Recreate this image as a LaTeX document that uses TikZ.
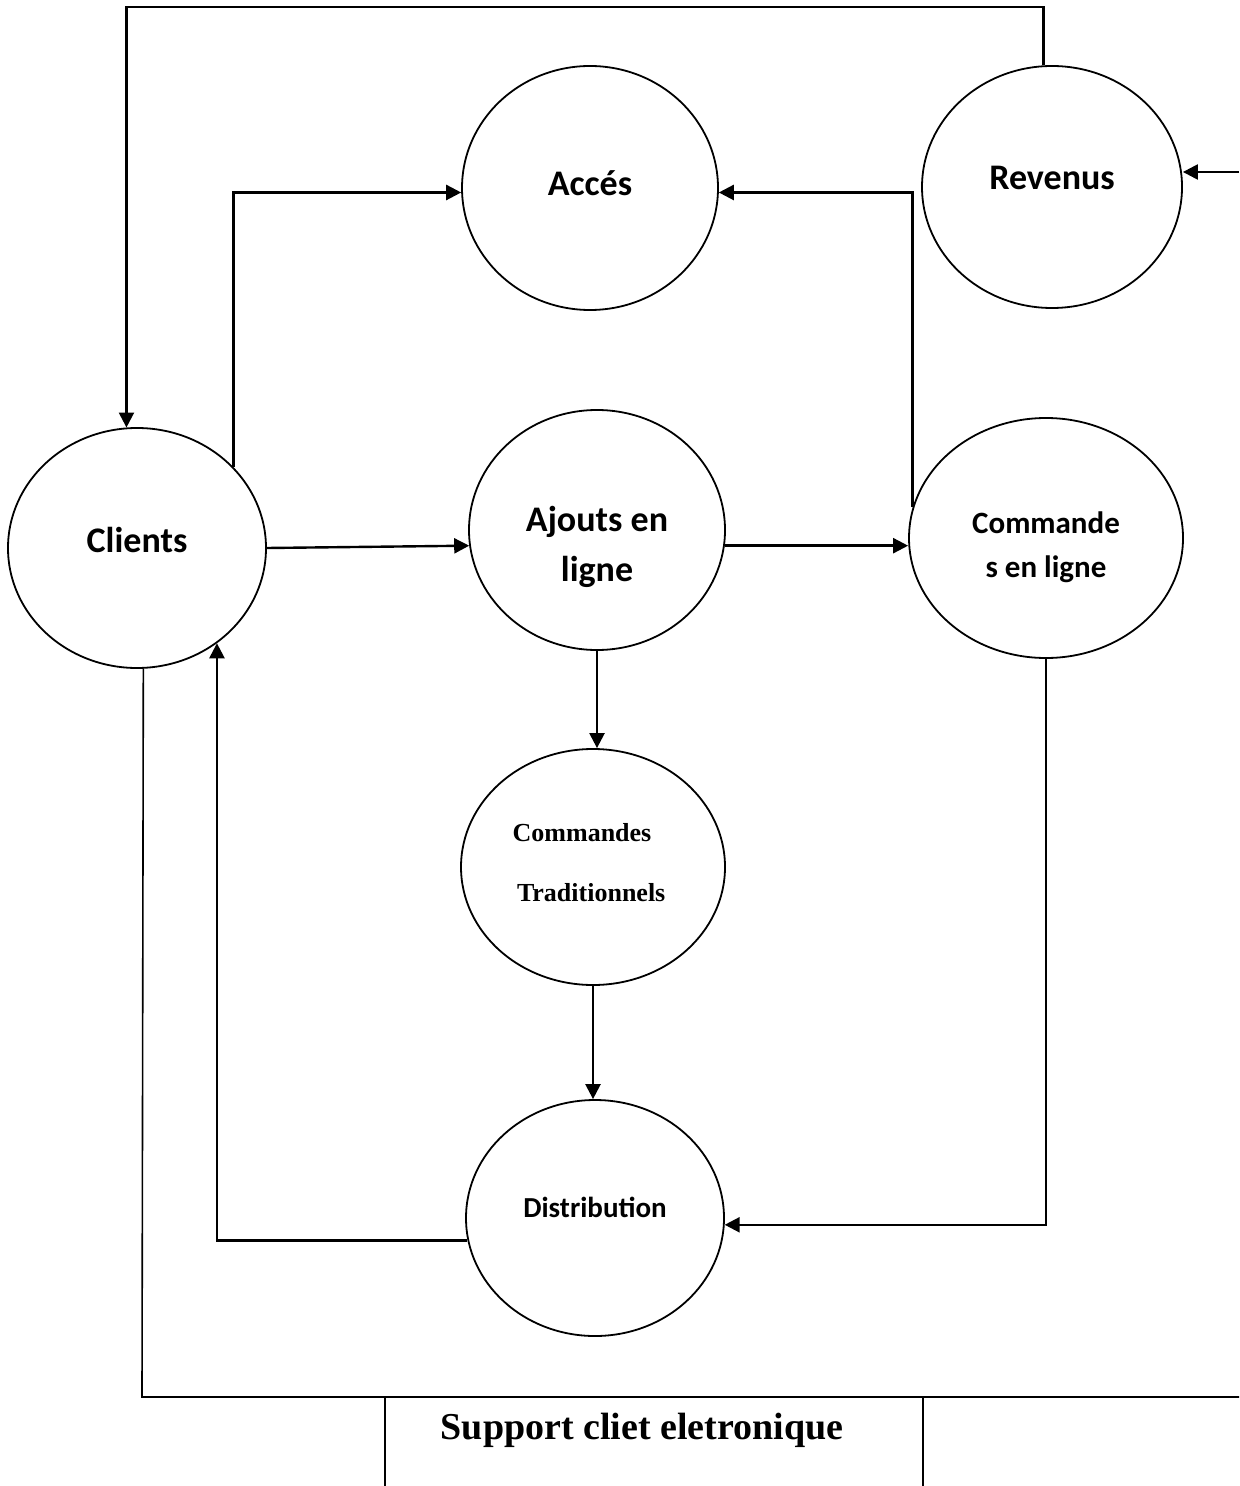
\documentclass[tikz,border=0pt]{standalone}
\usepackage{fontspec}
\setmainfont{Liberation Serif}
\newfontfamily\carlito{Carlito}
\usetikzlibrary{shapes.geometric,arrows.meta,calc}

\begin{document}
\begin{tikzpicture}[x=0.5pt,y=-0.5pt,
  bulle/.style={ellipse,draw,line width=0.9pt,inner sep=0pt},
  mot/.style={align=center,inner sep=0pt,font=\carlito\bfseries\fontsize{18}{22}\selectfont},
  petitmot/.style={align=center,inner sep=0pt,font=\carlito\bfseries\fontsize{15.5}{19}\selectfont},
  fleche/.style={line width=1.2pt,-{Triangle[length=7.5pt,width=7.5pt]}},
  trait/.style={line width=0.8pt}]
\useasboundingbox (0,0) rectangle (1239,1486);

\node[bulle,minimum width=128pt,minimum height=122pt,
  label={[mot,yshift=2.5pt]center:Accés}] (acces) at (590,188) {};
\node[bulle,minimum width=130pt,minimum height=121pt,
  label={[mot,yshift=4.5pt]center:Revenus}] (revenus) at (1052,187) {};
\node[bulle,minimum width=129pt,minimum height=120pt,
  label={[mot,yshift=4pt]center:Clients}] (clients) at (137,548) {};
\node[bulle,minimum width=128pt,minimum height=120pt,
  label={[mot,yshift=-8.5pt]center:Ajouts en\\[3pt] ligne}] (ajouts) at (597,530) {};
\node[bulle,minimum width=137pt,minimum height=120pt,
  label={[petitmot,yshift=-4.5pt]center:Commande\\[3pt] s en ligne}] (cmdligne) at (1046,538) {};
\node[bulle,minimum width=132pt,minimum height=118pt,
  label={[align=left,inner sep=0pt,xshift=-2pt,yshift=2pt,font=\bfseries\fontsize{13}{16}\selectfont]center:Commandes\\[14pt] \,Traditionnels}] (cmdtrad) at (593,867) {};
\node[bulle,minimum width=129pt,minimum height=118pt,
  label={[petitmot,yshift=5.5pt,font=\carlito\bfseries\fontsize{14.5}{18}\selectfont]center:Distribution}] (distribution) at (595,1218) {};
\node[font=\bfseries\fontsize{19}{22}\selectfont] (support) at (642,1430) {Support cliet eletronique};

\coordinate (haut) at (600,7);
\coordinate (entree) at (1239,172);
\coordinate (coinbas) at (142,1397);
\coordinate (bordbas) at (1239,1397);

% boucle du haut
\draw[fleche] (revenus.94) |- (haut) -| (clients.95);
\draw[fleche] (clients.40.5) |- (acces.182);
\draw[fleche] (cmdligne.167) |- (acces.-2);
\draw[fleche] (entree) -- (entree -| revenus.east);

% ligne du milieu
\draw[fleche] (clients.east) -- (ajouts.187);
\draw[fleche] (ajouts.-7) -- (ajouts.-7 -| cmdligne.west);
\draw[fleche] (ajouts.south) -- (ajouts.south |- cmdtrad.north);
\draw[fleche] (cmdtrad.south) -- (cmdtrad.south |- distribution.north);
\draw[fleche] (cmdligne.south) |- (distribution.-3);
\draw[fleche] (distribution.190) -| (clients.-50);

% support
\draw[trait] (clients.273) -- (coinbas) -- (bordbas);
\draw[trait] (385,1397) -- (385,1486);
\draw[trait] (923,1397) -- (923,1486);
\end{tikzpicture}
\end{document}
